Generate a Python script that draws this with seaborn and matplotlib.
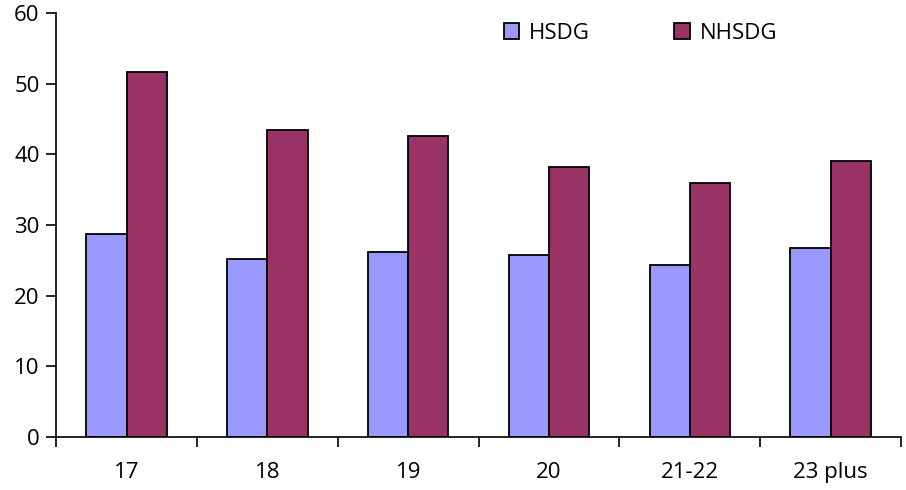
import numpy as np
import pandas as pd
import matplotlib
matplotlib.use('Agg')
import matplotlib.pyplot as plt
import seaborn as sns

# values
ages = ['17', '18', '19', '20', '21-22', '23 plus']
hsdg = [28.8, 25.2, 26.2, 25.8, 24.4, 26.8]
nhsdg = [51.6, 43.5, 42.6, 38.2, 35.9, 39.0]
groups = ['HSDG', 'NHSDG']
colors = ['#9999FF', '#993366']

df = pd.DataFrame({
    'age': ages * 2,
    'group': ['HSDG'] * len(ages) + ['NHSDG'] * len(ages),
    'value': hsdg + nhsdg,
})

sns.set_style('white')
plt.rcParams['font.family'] = ['Open Sans', 'DejaVu Sans']
plt.rcParams['text.color'] = 'black'

fig = plt.figure(figsize=(9.06, 4.90), dpi=100)
ax = fig.add_axes([0.062, 0.108, 0.9325, 0.8655])

sns.barplot(data=df, x='age', y='value', hue='group', order=ages, hue_order=groups,
            palette=colors, width=0.57, edgecolor='black', linewidth=1.3,
            saturation=1, ax=ax, legend=False)

ax.set_xlim(-0.5, len(ages) - 0.5)
ax.set_ylim(0, 60)
ax.set_yticks(np.arange(0, 61, 10))
ax.set_xlabel('')
ax.set_ylabel('')

for side in ['top', 'right']:
    ax.spines[side].set_visible(False)
for side in ['left', 'bottom']:
    ax.spines[side].set_color('black')
    ax.spines[side].set_linewidth(1.2)

ax.tick_params(axis='y', left=True, direction='out', length=7, width=1.2, color='black',
               labelsize=16, labelcolor='black', pad=5)
ax.tick_params(axis='x', which='major', bottom=True, length=0, labelsize=16,
               labelcolor='black', pad=18)
ax.set_xticks(np.arange(-0.5, len(ages), 1), minor=True)
ax.tick_params(axis='x', which='minor', bottom=True, direction='out', length=7,
               width=1.2, color='black')

handles = [plt.Rectangle((0, 0), 1, 1, facecolor=c, edgecolor='black', linewidth=1.3)
           for c in colors]
fig.legend(handles, groups, loc='center', bbox_to_anchor=(0.707, 0.932), ncol=2,
           frameon=False, fontsize=16, handlelength=0.7, handleheight=0.7,
           handletextpad=0.45, columnspacing=3.8, labelcolor='black')

fig.savefig('out.png', dpi=100)
